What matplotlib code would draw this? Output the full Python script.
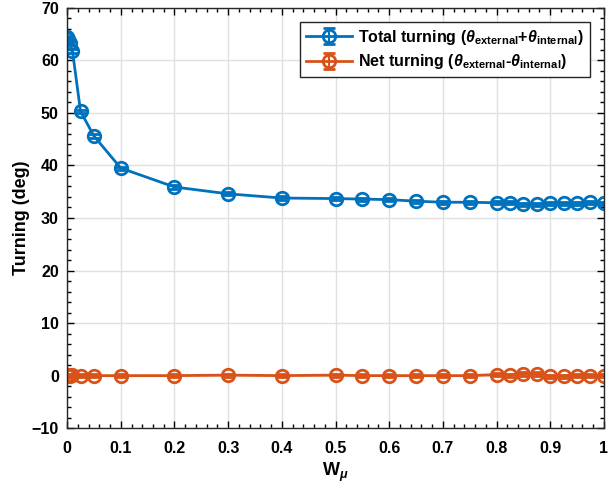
import numpy as np
import matplotlib
matplotlib.use('Agg')
import matplotlib.pyplot as plt
from matplotlib.ticker import MultipleLocator

plt.rcParams['font.family'] = 'Liberation Sans'
plt.rcParams['font.weight'] = 'bold'
plt.rcParams['mathtext.fontset'] = 'custom'
plt.rcParams['mathtext.rm'] = 'Liberation Sans:bold'
plt.rcParams['mathtext.it'] = 'Liberation Sans:italic:bold'
plt.rcParams['mathtext.bf'] = 'Liberation Sans:bold'

# data
w_mu = [0, 0.002, 0.005, 0.01, 0.025, 0.05, 0.1, 0.2, 0.3, 0.4, 0.5, 0.55, 0.6,
        0.65, 0.7, 0.75, 0.8, 0.825, 0.85, 0.875, 0.9, 0.925, 0.95, 0.975, 1.0]
total_turn = [64.4, 64.0, 63.3, 61.8, 50.3, 45.6, 39.5, 35.9, 34.6, 33.8, 33.7, 33.6, 33.5,
              33.2, 33.0, 33.0, 32.9, 32.9, 32.6, 32.6, 32.8, 32.8, 32.8, 33.0, 32.8]
net_turn = [0.1, 0.1, 0.0, 0.1, 0.0, 0.0, 0.0, 0.0, 0.1, 0.0, 0.1, 0.0, 0.0,
            0.0, 0.0, 0.0, 0.2, 0.1, 0.3, 0.3, -0.1, -0.1, 0.0, 0.0, 0.0]
total_err = [0.3] * len(w_mu)
net_err = [0.3] * len(w_mu)

blue = '#0072BD'
orange = '#D95319'

fig = plt.figure(figsize=(6.1, 4.91), dpi=100)
ax = fig.add_axes([0.11, 0.128, 0.88, 0.856])

ax.errorbar(w_mu, total_turn, yerr=total_err, color=blue, marker='o', ms=9,
            mfc='none', mew=2, lw=2, capsize=4, elinewidth=1.5, capthick=1.5,
            label=r'Total turning ($\theta_{\mathbf{external}}$+$\theta_{\mathbf{internal}}$)')
ax.errorbar(w_mu, net_turn, yerr=net_err, color=orange, marker='o', ms=9,
            mfc='none', mew=2, lw=2, capsize=4, elinewidth=1.5, capthick=1.5,
            label=r'Net turning ($\theta_{\mathbf{external}}$-$\theta_{\mathbf{internal}}$)')

ax.set_xlim(0, 1)
ax.set_ylim(-10, 70)
ax.xaxis.set_minor_locator(MultipleLocator(0.02))
ax.yaxis.set_major_locator(MultipleLocator(10))
ax.yaxis.set_minor_locator(MultipleLocator(2))
ax.set_xticks(np.arange(0, 1.01, 0.1))
ax.set_xticklabels(['0', '0.1', '0.2', '0.3', '0.4', '0.5', '0.6', '0.7', '0.8', '0.9', '1'])
ax.tick_params(which='both', direction='in', top=True, right=True, labelsize=11.5, width=1)
ax.tick_params(which='major', length=5)
ax.tick_params(which='minor', length=3)
ax.tick_params(axis='x', which='major', pad=9)
ax.tick_params(axis='y', which='major', pad=6)
ax.grid(True, which='major', color='#e0e0e0', lw=1)
ax.set_axisbelow(True)
for s in ax.spines.values():
    s.set_linewidth(1)
    s.set_color('#262626')

ax.set_xlabel(r'W$_{\mu}$', fontsize=13, fontweight='bold', labelpad=4)
ax.set_ylabel('Turning (deg)', fontsize=13, fontweight='bold', labelpad=1)

leg = ax.legend(loc='upper right', fontsize=11.5, frameon=True, fancybox=False,
                edgecolor='#262626', framealpha=1, handlelength=2.9,
                borderaxespad=0.9, borderpad=0.35, labelspacing=0.35, handletextpad=0.4)
leg.get_frame().set_linewidth(1)

plt.savefig('out.png', dpi=100)
